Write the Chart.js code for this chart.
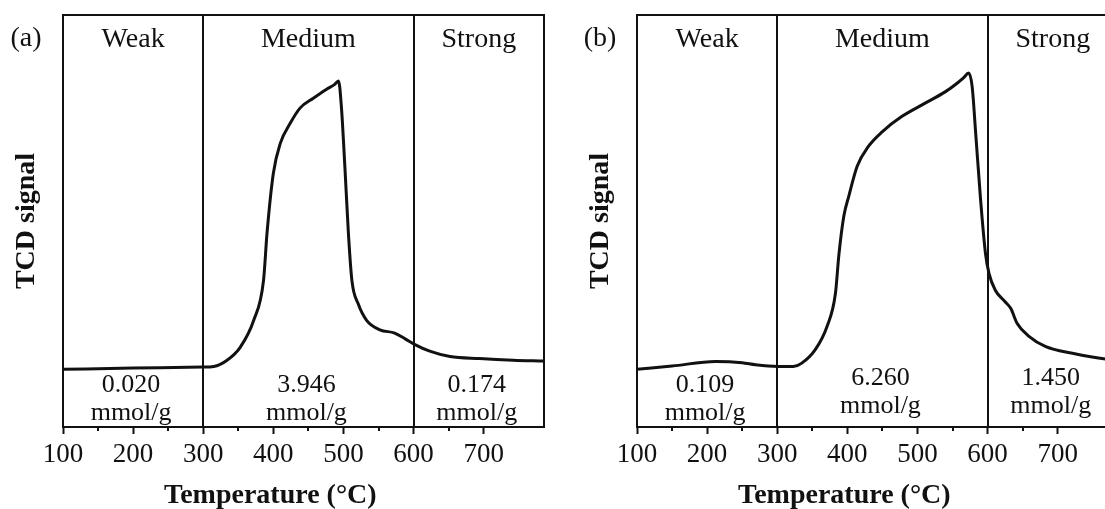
<!DOCTYPE html>
<html>
<head>
<meta charset="utf-8">
<script src="https://cdn.jsdelivr.net/npm/chart.js@4.4.1/dist/chart.umd.min.js"></script>
<style>
    html, body { margin: 0; padding: 0; background: #fff; overflow: hidden; width: 1105px; height: 509px; }
    canvas { position: absolute; top: 0; }
    #tpd-a { left: 0; }
    #tpd-b { left: 574px; }
</style>
</head>
<body>
<canvas id="tpd-a" width="560" height="509"></canvas>
<canvas id="tpd-b" width="560" height="509"></canvas>
<script>
// NH3-TPD curves, values (signal in arbitrary units, 0-100)
const temperatureA = [100, 200, 299, 315, 334, 353, 372, 386, 391, 400, 410, 424, 438, 457, 476, 487, 493, 497, 502, 507, 512, 521, 533, 552, 573, 588, 602, 623, 652, 694, 742, 785]
const signalA = [14.0, 14.3, 14.55, 14.7, 16.2, 19.4, 25.9, 35.6, 47.1, 61.6, 68.9, 73.7, 77.4, 79.8, 82.0, 83.1, 84.0, 77.8, 63.2, 47.1, 35.6, 29.9, 25.9, 23.6, 22.8, 21.4, 20.0, 18.4, 17.1, 16.6, 16.2, 16.0]

const temperatureB = [100, 150, 212, 250, 269, 301, 323, 335, 354, 371, 383, 388, 395, 402, 414, 430, 450, 478, 511, 540, 557, 566, 573, 578, 583, 590, 597, 602, 611, 625, 633, 642, 659, 683, 721, 768, 786]
const signalB = [14.0, 14.8, 15.9, 15.6, 15.1, 14.7, 14.7, 15.5, 18.7, 24.4, 32.4, 41.9, 51.2, 56.0, 63.3, 68.1, 71.7, 75.4, 78.6, 81.4, 83.5, 84.8, 85.9, 82.6, 71.4, 55.2, 42.1, 37.3, 33.2, 30.4, 28.8, 25.2, 22.0, 19.5, 17.9, 16.5, 16.3]

const regionNames = ['Weak', 'Medium', 'Strong']
const regionEdges = [100, 300, 600, 786]
const acidAmountA = ['0.020', '3.946', '0.174']
const acidAmountB = ['0.109', '6.260', '1.450']
const amountUnit = 'mmol/g'
const xTickLabels = [100, 200, 300, 400, 500, 600, 700]

const FONT = '"Liberation Serif", "Times New Roman", serif'
const INK = '#111'

const decor = {
    id: 'decor',
    beforeDatasetsDraw(chart) {
        const { ctx, chartArea: a, scales: { x } } = chart
        ctx.save()
        ctx.strokeStyle = INK
        ctx.lineWidth = 2
        regionEdges.slice(1, -1).forEach(t => {
            const px = Math.round(x.getPixelForValue(t))
            ctx.beginPath()
            ctx.moveTo(px, a.top)
            ctx.lineTo(px, a.bottom)
            ctx.stroke()
        })
        ctx.restore()
    },
    afterDraw(chart, args, opts) {
        const { ctx, chartArea: a, scales: { x } } = chart
        ctx.save()
        ctx.strokeStyle = INK
        ctx.lineWidth = 2
        ctx.strokeRect(a.left, a.top, a.right - a.left, a.bottom - a.top)

        // minor ticks (major ones come from the axis grid)
        ctx.beginPath()
        x.ticks.forEach(t => {
            if (t.value % 50 === 0 && t.value % 100 !== 0) {
                const px = Math.round(x.getPixelForValue(t.value))
                ctx.moveTo(px, a.bottom)
                ctx.lineTo(px, a.bottom + 4)
            }
        })
        ctx.stroke()

        ctx.fillStyle = INK
        ctx.textAlign = 'center'
        ctx.textBaseline = 'alphabetic'
        ctx.font = `28px ${FONT}`
        regionNames.forEach((name, i) => {
            const cx = x.getPixelForValue((regionEdges[i] + regionEdges[i + 1]) / 2)
            ctx.fillText(name, cx, a.top + 32)
        })

        ctx.font = `26px ${FONT}`
        opts.amounts.forEach((val, i) => {
            const cx = x.getPixelForValue((regionEdges[i] + regionEdges[i + 1]) / 2) - 2
            const lift = opts.lift[i]
            ctx.fillText(val, cx, a.bottom - 35 - lift)
            ctx.fillText(amountUnit, cx, a.bottom - 7 - lift)
        })

        ctx.font = `28px ${FONT}`
        ctx.fillText(opts.tag, a.left - 37, 46)

        ctx.font = `bold 28px ${FONT}`
        const mid = (x.getPixelForValue(xTickLabels[0]) + x.getPixelForValue(xTickLabels[xTickLabels.length - 1])) / 2
        ctx.fillText('Temperature (°C)', mid - 3, 503)
        ctx.restore()
    }
}

function makeChart(id, temps, signals, amounts, tag, lift) {
    const points = temps.map((t, i) => ({ x: t, y: signals[i] }))
    return new Chart(document.getElementById(id), {
        type: 'line',
        data: {
            datasets: [{
                data: points,
                borderColor: INK,
                borderWidth: 3,
                pointRadius: 0,
                fill: false,
                cubicInterpolationMode: 'monotone'
            }]
        },
        options: {
            responsive: false,
            animation: false,
            events: [],
            layout: { padding: { top: 15, right: 16, left: 0, bottom: 0 } },
            plugins: {
                legend: { display: false },
                tooltip: { enabled: false },
                decor: { tag: tag, amounts: amounts, lift: lift }
            },
            scales: {
                x: {
                    type: 'linear',
                    min: regionEdges[0],
                    max: regionEdges[regionEdges.length - 1],
                    ticks: {
                        stepSize: 50,
                        autoSkip: false,
                        maxRotation: 0,
                        padding: 5,
                        color: INK,
                        font: { family: FONT, size: 27 },
                        callback: v => xTickLabels.includes(v) ? String(v) : ''
                    },
                    grid: {
                        display: true,
                        drawOnChartArea: false,
                        drawTicks: true,
                        tickLength: 7,
                        tickWidth: 2,
                        tickColor: c => (c.tick && xTickLabels.includes(c.tick.value)) ? INK : 'rgba(0,0,0,0)'
                    },
                    border: { display: false },
                    afterFit: s => { s.height = 82 }
                },
                y: {
                    min: 0,
                    max: 100,
                    ticks: { display: false },
                    grid: { display: false },
                    border: { display: false },
                    title: {
                        display: true,
                        text: 'TCD signal',
                        color: INK,
                        font: { family: FONT, size: 28, weight: 'bold' },
                        padding: { top: 10, bottom: 0 }
                    },
                    afterFit: s => { s.width = 63 }
                }
            }
        },
        plugins: [decor]
    })
}

makeChart('tpd-a', temperatureA, signalA, acidAmountA, '(a)', [0, 0, 0])
makeChart('tpd-b', temperatureB, signalB, acidAmountB, '(b)', [0, 7, 7])
</script>
</body>
</html>
